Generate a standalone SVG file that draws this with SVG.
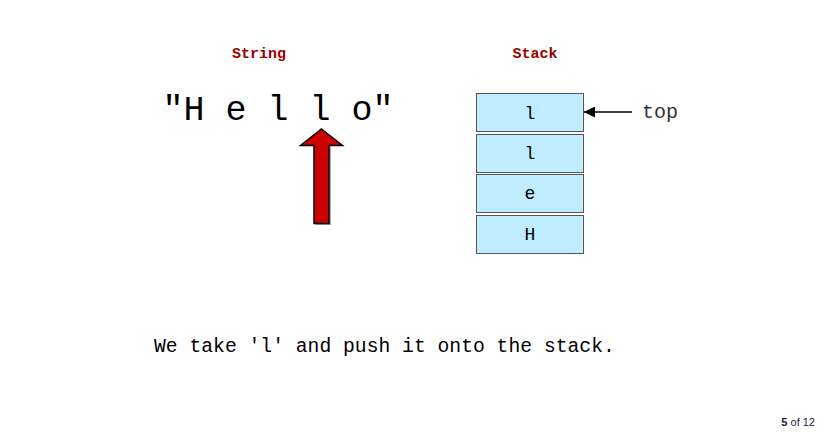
<svg xmlns="http://www.w3.org/2000/svg" width="826" height="432" viewBox="0 0 826 432">
  <style>
    .mono { font-family: "Liberation Mono", "Courier New", monospace; }
    .label { font-family: "Liberation Mono", "Courier New", monospace; font-weight: bold; font-size: 15px; fill: #990000; text-anchor: middle; }
    .cell rect { fill: #C0ECFF; stroke: #555555; stroke-width: 1; }
    .cell text { font-family: "Liberation Mono", "Courier New", monospace; font-size: 18px; fill: #000; text-anchor: middle; }
  </style>
  <defs>
    <marker id="head" viewBox="0 0 10 10" refX="10" refY="5" markerWidth="15" markerHeight="11" markerUnits="userSpaceOnUse" orient="auto">
      <path d="M0,0 L10,5 L0,10 Z" fill="#000"/>
    </marker>
  </defs>
  <rect width="826" height="432" fill="#ffffff"/>

  <!-- column titles -->
  <text class="label" x="259" y="58">String</text>
  <text class="label" x="535" y="58">Stack</text>

  <!-- the input string -->
  <g id="string">
    <text class="mono" x="162.5" y="120" font-size="35" fill="#000">"H e l l o"</text>
  </g>

  <!-- pointer arrow under the current character -->
  <g id="pointer">
    <path d="M331,147 L331,225 L316,225 L316,147 Z" fill="#aaaaaa"/>
    <path d="M321.5,129 L342.5,145.5 L329,145.5 L329,223.5 L314,223.5 L314,145.5 L300.5,145.5 Z" fill="#CC0000" stroke="#000" stroke-width="1.5" stroke-linejoin="miter"/>
  </g>

  <!-- stack cells, top first -->
  <g id="cell-top" class="cell">
    <rect x="476.5" y="93.5" width="107" height="38"/>
    <text x="530" y="119">l</text>
  </g>
  <g id="cell-2" class="cell">
    <rect x="476.5" y="134.5" width="107" height="38"/>
    <text x="530" y="159">l</text>
  </g>
  <g id="cell-3" class="cell">
    <rect x="476.5" y="174.5" width="107" height="38"/>
    <text x="530" y="199">e</text>
  </g>
  <g id="cell-4" class="cell">
    <rect x="476.5" y="215.5" width="107" height="38"/>
    <text x="530" y="240">H</text>
  </g>

  <!-- top marker -->
  <g id="connectors">
    <line x1="632" y1="112" x2="584" y2="112" stroke="#000" stroke-width="1.5" marker-end="url(#head)"/>
  </g>
  <g id="top-label">
    <text class="mono" x="642" y="118" font-size="20" fill="#333">top</text>
  </g>

  <!-- caption -->
  <g id="caption">
    <text class="mono" x="154" y="352" font-size="19.7" fill="#000">We take 'l' and push it onto the stack.</text>
  </g>

  <!-- page counter -->
  <g id="page">
    <text x="815" y="426" font-family="Liberation Sans, Arial, sans-serif" font-size="11" fill="#1a1a4d" text-anchor="end"><tspan font-weight="bold">5</tspan> of 12</text>
  </g>
</svg>
